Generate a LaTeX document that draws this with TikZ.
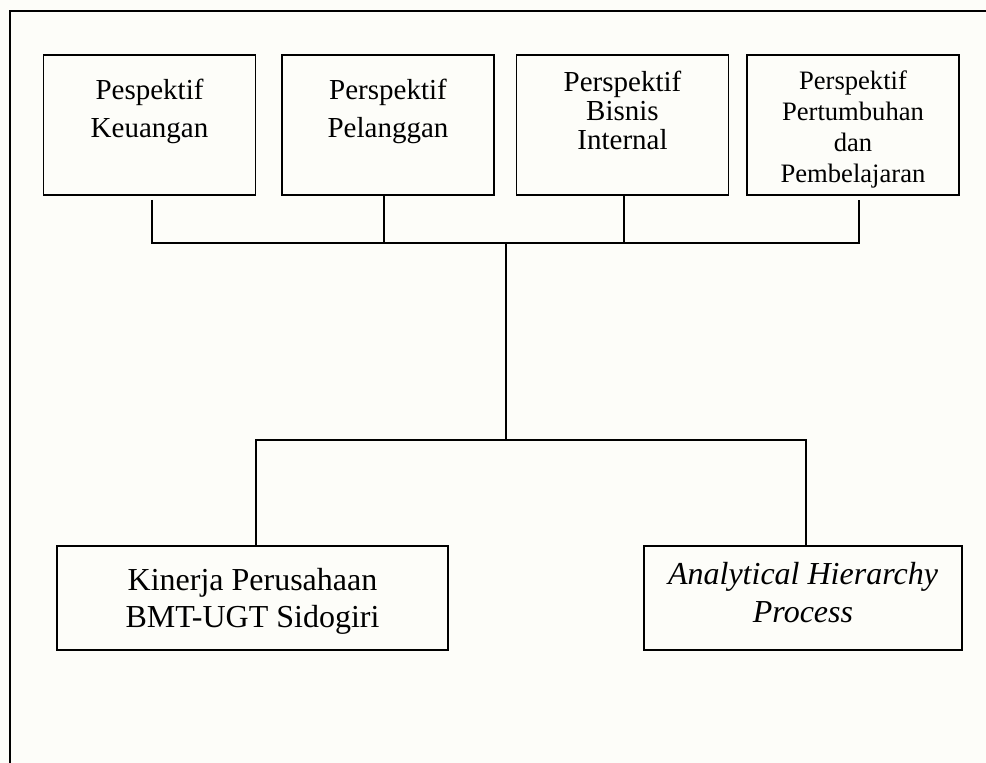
\documentclass[tikz,border=0pt]{standalone}
\usepackage{fontspec}
\setmainfont{Liberation Serif}
\definecolor{kertas}{RGB}{253,253,249}
\begin{document}
\begin{tikzpicture}[x=0.5pt,y=-0.5pt,
        kotak/.style={draw,line width=0.8pt,align=center,inner sep=0pt},
        atas/.style={kotak,minimum width=106pt,font=\fontsize{14.5}{19}\selectfont},
        bawah/.style={kotak,font=\fontsize{16}{18.75}\selectfont},
        garis/.style={line width=0.8pt}]
                \fill [kertas] (0,0) rectangle (986,763) ;
                \useasboundingbox (0,0) rectangle (986,763) ;
                \draw [line width=0.75pt] (10,763) -- (10,11) -- (986,11) ;
                \node [atas,text height=41.5pt,text depth=28.5pt] (keuangan) at (149.5,125) {Pespektif\\Keuangan} ;
                \node [atas,text height=41.5pt,text depth=28.5pt] (pelanggan) at (388,125) {Perspektif\\Pelanggan} ;
                \node [atas,font=\fontsize{14.5}{14.5}\selectfont,text height=47.5pt,text depth=22.5pt] (bisnis) at (622.5,125) {Perspektif\\Bisnis\\Internal} ;
                \node [atas,font=\fontsize{13.3}{15.5}\selectfont,text height=64pt,text depth=6pt] (tumbuh) at (853,125) {Perspektif\\Pertumbuhan\\dan\\Pembelajaran} ;
                \node [bawah,minimum width=195.5pt,text height=41pt,text depth=11pt] (kinerja) at (252.5,598) {Kinerja Perusahaan\\BMT-UGT Sidogiri} ;
                \node [bawah,font=\fontsize{16}{19}\selectfont\itshape,minimum width=159pt,text height=38.5pt,text depth=13.5pt] (ahp) at (803,598) {Analytical Hierarchy\\Process} ;
                \coordinate (bagi) at (506,243) ;
                \coordinate (cabang) at (506,440) ;
                \draw [garis] ([xshift=1.25pt,yshift=-2pt]keuangan.south) |- (bagi) -| ([xshift=3pt,yshift=-2pt]tumbuh.south) ;
                \draw [garis] ([xshift=-2pt]pelanggan.south) -- ([xshift=-2pt]pelanggan.south |- bagi) ;
                \draw [garis] ([xshift=0.75pt]bisnis.south) -- ([xshift=0.75pt]bisnis.south |- bagi) ;
                \draw [garis] (bagi) -- (cabang) ;
                \draw [garis] ([xshift=1.75pt]kinerja.north) |- (cabang) -| ([xshift=1.5pt]ahp.north) ;
\end{tikzpicture}
\end{document}
